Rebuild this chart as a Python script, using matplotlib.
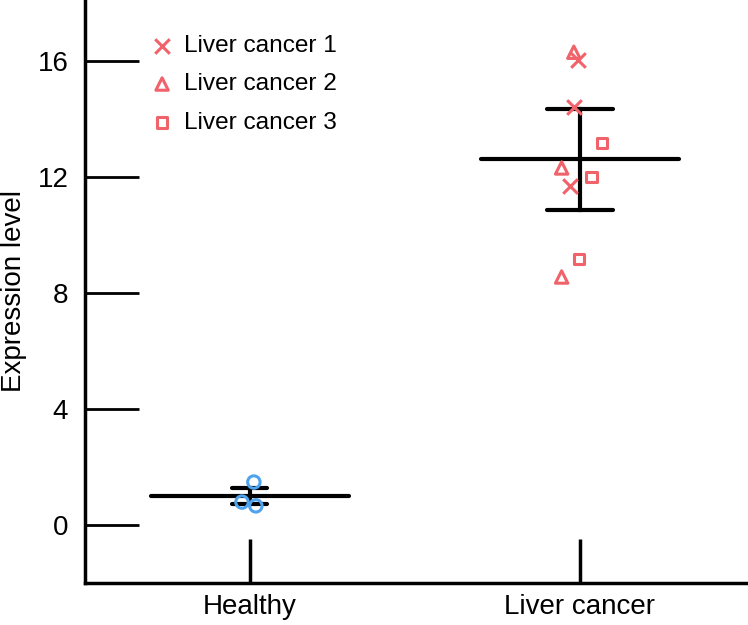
import matplotlib
matplotlib.use("Agg")
import matplotlib.pyplot as plt

plt.rcParams['font.family'] = ['Liberation Sans', 'DejaVu Sans']

red = '#f0636a'
blue = '#4fa3ee'

groups = ['Healthy', 'Liver cancer']

# healthy samples
healthy_x = [0.012, -0.024, 0.018]
healthy_y = [1.48, 0.79, 0.66]

# liver cancer samples, one list per patient
lc1_x = [-0.006, -0.018, -0.030]
lc1_y = [16.03, 14.41, 11.69]
lc2_x = [-0.018, -0.055, -0.055]
lc2_y = [16.30, 12.31, 8.55]
lc3_x = [0.067, 0.036, -0.003]
lc3_y = [13.17, 12.00, 9.17]

means = [1.00, 12.62]
err_low = [0.72, 10.86]
err_high = [1.28, 14.34]
cap_half = [0.053, 0.10]

fig = plt.figure(figsize=(7.48, 6.25), dpi=100)
ax = fig.add_axes([0.1136, 0.0672, 0.8864, 0.9328])

pos = [1, 2]
for i in range(2):
    ax.plot([pos[i] - 0.3, pos[i] + 0.3], [means[i], means[i]], color='black', lw=3, solid_capstyle='round', zorder=2)
    ax.plot([pos[i], pos[i]], [err_low[i], err_high[i]], color='black', lw=3, zorder=2)
    for v in (err_low[i], err_high[i]):
        ax.plot([pos[i] - cap_half[i], pos[i] + cap_half[i]], [v, v], color='black', lw=3, solid_capstyle='round', zorder=2)

ax.scatter([1 + d for d in healthy_x], healthy_y, s=80, facecolors='none', edgecolors=blue, linewidths=2.2, marker='o', zorder=3)
ax.scatter([2 + d for d in lc1_x], lc1_y, s=110, color=red, linewidths=2.2, marker='x', zorder=3, label='Liver cancer 1')
ax.scatter([2 + d for d in lc2_x], lc2_y, s=80, facecolors='none', edgecolors=red, linewidths=2.2, marker='^', zorder=3, label='Liver cancer 2')
ax.scatter([2 + d for d in lc3_x], lc3_y, s=55, facecolors='none', edgecolors=red, linewidths=2.2, marker='s', zorder=3, label='Liver cancer 3')

ax.set_xlim(0.5, 2.51)
ax.set_ylim(-2.0, 18.1)
ax.set_xticks(pos)
ax.set_xticklabels(groups)
ax.set_yticks([0, 4, 8, 12, 16])
ax.tick_params(axis='y', direction='in', length=39, width=2, labelsize=20, pad=12)
ax.tick_params(axis='x', direction='in', length=32, width=2.5, labelsize=20, pad=8)
ax.set_ylabel('Expression level', fontsize=20)
ax.yaxis.set_label_coords(-0.087, 0.5)

for s in ['top', 'right']:
    ax.spines[s].set_visible(False)
for s in ['left', 'bottom']:
    ax.spines[s].set_linewidth(2.5)

ax.legend(loc='upper left', bbox_to_anchor=(0.061, 0.978), frameon=False, fontsize=17.6,
          handletextpad=0.3, labelspacing=0.67, handlelength=1.2)

fig.savefig('out.png', dpi=100)
